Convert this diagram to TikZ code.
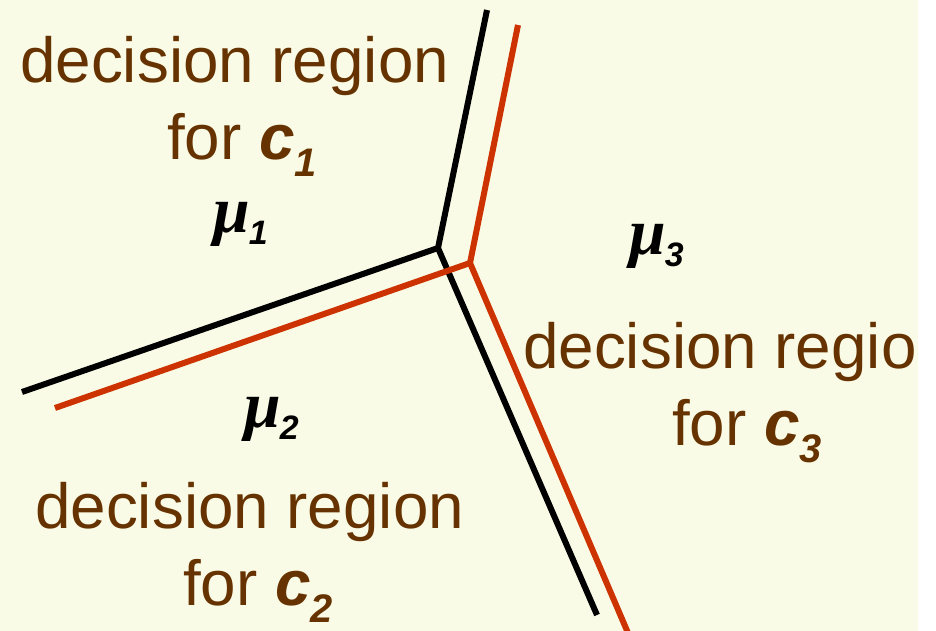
\documentclass[tikz,border=0pt]{standalone}
\usepackage{fontspec}
\setmainfont{Liberation Sans}
\newfontfamily\muserif{Liberation Serif}
\definecolor{bgyellow}{RGB}{250,251,230}
\definecolor{txtbrown}{RGB}{102,51,0}
\definecolor{linered}{RGB}{204,51,0}
\tikzset{
  regiontext/.style={inner sep=0pt, anchor=base west, text=txtbrown, font=\fontsize{64}{64}\selectfont},
  mutext/.style={inner sep=0pt, anchor=base west, text=black, font=\fontsize{66}{66}\selectfont\bfseries\itshape},
  boundary/.style={line width=6bp, line join=miter},
  blackline/.style={boundary, draw=black},
  redline/.style={boundary, draw=linered}
}
\newcommand{\csub}[1]{{\bfseries\itshape c\raisebox{-17bp}{\fontsize{40}{40}\selectfont\bfseries\itshape #1}}}
\newcommand{\musub}[1]{{\muserif\bfseries\itshape μ}\kern-1bp\raisebox{-12bp}{\fontsize{34}{34}\selectfont\bfseries\itshape #1}}
\begin{document}
\begin{tikzpicture}[x=1bp,y=-1bp]
\useasboundingbox (0,0) rectangle (936,631);
\fill[white] (0,0) rectangle (936,631);
\fill[bgyellow] (0,0) rectangle (918,631);
% black boundaries
\coordinate (jb) at (438,248);
\coordinate (tb) at (487,10);
\coordinate (lb) at (22,392);
\coordinate (bb) at (597,615);
% red boundaries
\coordinate (jr) at (470,263);
\coordinate (tr) at (518,25);
\coordinate (lr) at (55,408);
\coordinate (br) at (631,640);
\begin{scope}
\clip (0,0) rectangle (936,631);
\draw[blackline] (tb) -- (jb) -- (lb);
\draw[blackline] (jb) -- (bb);
\draw[redline] (tr) -- (jr) -- (lr);
\draw[redline] (jr) -- (br);
\end{scope}
% region labels
\node[regiontext] (r1a) at (20,83) {decision region};
\node[regiontext] (r1b) at (167,160) {for \csub{1}};
\node[regiontext] (r3a) at (523,368) {decision regio};
\node[regiontext] (r3b) at (672,445) {for \csub{3}};
\node[regiontext] (r2a) at (35,528) {decision region};
\node[regiontext] (r2b) at (183,605) {for \csub{2}};
% means
\node[mutext] (m1) at (213,233) {\musub{1}};
\node[mutext] (m2) at (244,427) {\musub{2}};
\node[mutext] (m3) at (629,255) {\musub{3}};
\end{tikzpicture}
\end{document}
